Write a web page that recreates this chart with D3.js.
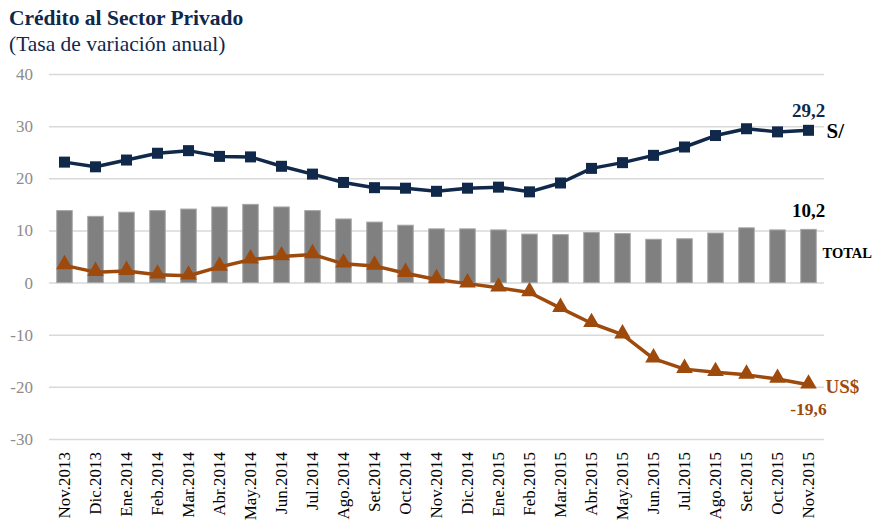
<!DOCTYPE html>
<html>
<head>
<meta charset="utf-8">
<script src="https://cdn.jsdelivr.net/npm/d3@7"></script>
<style>
  body { margin: 0; background: #fff; }
  svg text { font-family: "Liberation Serif", serif; }
</style>
</head>
<body>
<svg id="chart" width="875" height="521"></svg>
<script>
// categorias (meses)
var meses = ["Nov.2013", "Dic.2013", "Ene.2014", "Feb.2014", "Mar.2014", "Abr.2014",
  "May.2014", "Jun.2014", "Jul.2014", "Ago.2014", "Set.2014", "Oct.2014", "Nov.2014",
  "Dic.2014", "Ene.2015", "Feb.2015", "Mar.2015", "Abr.2015", "May.2015", "Jun.2015",
  "Jul.2015", "Ago.2015", "Set.2015", "Oct.2015", "Nov.2015"];

// credito total (barras)
var total = [13.8, 12.7, 13.5, 13.8, 14.1, 14.5, 15.0, 14.5, 13.8, 12.2, 11.6, 11.0, 10.3,
  10.3, 10.1, 9.3, 9.2, 9.6, 9.4, 8.3, 8.4, 9.5, 10.5, 10.1, 10.2];

// credito en soles
var soles = [23.1, 22.2, 23.5, 24.8, 25.3, 24.2, 24.1, 22.3, 20.8, 19.2, 18.2, 18.1, 17.5,
  18.1, 18.3, 17.4, 19.1, 21.9, 23.0, 24.4, 26.0, 28.2, 29.5, 28.9, 29.2];

// credito en dolares
var dolares = [3.3, 2.0, 2.2, 1.5, 1.3, 3.0, 4.4, 5.0, 5.4, 3.6, 3.2, 1.8, 0.6,
  -0.2, -1.0, -1.9, -4.9, -7.8, -10.0, -14.6, -16.6, -17.2, -17.7, -18.5, -19.6];

var yTicks = [40, 30, 20, 10, 0, -10, -20, -30];

var navy = "#10284a",
  marron = "#9e4a0c",
  gris = "#808080";

var svg = d3.select("#chart");

var margin = { left: 49, right: 51, top: 74, bottom: 82 };
var width = 875 - margin.left - margin.right,
  height = 521 - margin.top - margin.bottom;

var x = d3.scaleBand()
  .domain(meses)
  .range([margin.left, margin.left + width])
  .paddingInner(0.5)
  .paddingOuter(0.25);

var y = d3.scaleLinear()
  .domain([-30, 40])
  .range([margin.top + height, margin.top]);

// titulo
svg.append("text")
  .attr("x", 9)
  .attr("y", 25)
  .attr("font-size", "21.5px")
  .attr("font-weight", "bold")
  .attr("fill", navy)
  .text("Crédito al Sector Privado");

svg.append("text")
  .attr("x", 9)
  .attr("y", 51)
  .attr("font-size", "21.5px")
  .attr("fill", navy)
  .text("(Tasa de variación anual)");

// eje y + grilla
var yAxis = svg.append("g")
  .attr("transform", "translate(" + margin.left + ",0)")
  .call(d3.axisLeft(y).tickValues(yTicks).tickSize(-width).tickPadding(16)
    .tickFormat(function(d) { return String(d); }));

yAxis.select(".domain").remove();
yAxis.selectAll(".tick line")
  .attr("stroke", "#d9d9d9")
  .attr("stroke-width", 1.5);
yAxis.selectAll(".tick text")
  .attr("font-size", "17px")
  .attr("fill", "#8c8c8c")
  .attr("font-family", "Liberation Serif, serif");

// barras TOTAL
svg.append("g")
  .attr("class", "barras")
  .selectAll("rect")
  .data(total)
  .enter().append("rect")
  .attr("x", function(d, i) { return x(meses[i]); })
  .attr("width", x.bandwidth())
  .attr("y", function(d) { return y(Math.max(0, d)); })
  .attr("height", function(d) { return Math.abs(y(d) - y(0)); })
  .attr("fill", gris)
  .attr("stroke", "#a6a6a6")
  .attr("stroke-width", 1);

// eje x
var xAxis = svg.append("g")
  .attr("transform", "translate(0," + (margin.top + height) + ")")
  .call(d3.axisBottom(x).tickSize(0).tickPadding(0));

xAxis.select(".domain").remove();
xAxis.selectAll(".tick text")
  .attr("font-size", "17px")
  .attr("fill", "#000")
  .attr("font-family", "Liberation Serif, serif")
  .attr("transform", "rotate(-90)")
  .attr("text-anchor", "end")
  .attr("dy", "0.35em")
  .attr("x", -13)
  .attr("y", 0);

var cx = function(d, i) { return x(meses[i]) + x.bandwidth() / 2; };

var linea = d3.line()
  .x(cx)
  .y(function(d) { return y(d); });

// linea soles
svg.append("path")
  .datum(soles)
  .attr("d", linea)
  .attr("fill", "none")
  .attr("stroke", navy)
  .attr("stroke-width", 3.5)
  .attr("stroke-linejoin", "round");

svg.append("g")
  .selectAll("rect")
  .data(soles)
  .enter().append("rect")
  .attr("x", function(d, i) { return cx(d, i) - 5.5; })
  .attr("y", function(d) { return y(d) - 5.5; })
  .attr("width", 11)
  .attr("height", 11)
  .attr("fill", navy);

// linea dolares
svg.append("path")
  .datum(dolares)
  .attr("d", linea)
  .attr("fill", "none")
  .attr("stroke", marron)
  .attr("stroke-width", 3.5)
  .attr("stroke-linejoin", "round");

var tri = d3.symbol().type(d3.symbolTriangle).size(120);

svg.append("g")
  .selectAll("path")
  .data(dolares)
  .enter().append("path")
  .attr("d", tri)
  .attr("transform", function(d, i) {
    return "translate(" + cx(d, i) + "," + (y(d) - 1) + ")";
  })
  .attr("fill", marron);

// etiquetas finales
var ult = meses.length - 1;
var xUlt = cx(null, ult);

svg.append("text")
  .attr("x", xUlt)
  .attr("y", y(soles[ult]) - 13)
  .attr("text-anchor", "middle")
  .attr("font-size", "19px")
  .attr("font-weight", "bold")
  .attr("fill", navy)
  .text("29,2");

svg.append("text")
  .attr("x", xUlt + 18)
  .attr("y", y(soles[ult]) + 8)
  .attr("font-size", "21px")
  .attr("font-weight", "bold")
  .attr("fill", "#000")
  .text("S/");

svg.append("text")
  .attr("x", xUlt)
  .attr("y", y(total[ult]) - 12)
  .attr("text-anchor", "middle")
  .attr("font-size", "19px")
  .attr("font-weight", "bold")
  .attr("fill", "#000")
  .text("10,2");

svg.append("text")
  .attr("x", xUlt + 14)
  .attr("y", y(total[ult]) + 29)
  .attr("font-size", "14.5px")
  .attr("font-weight", "bold")
  .attr("fill", "#000")
  .text("TOTAL");

svg.append("text")
  .attr("x", xUlt + 17)
  .attr("y", y(dolares[ult]) + 8)
  .attr("font-size", "19px")
  .attr("font-weight", "bold")
  .attr("fill", marron)
  .text("US$");

svg.append("text")
  .attr("x", xUlt)
  .attr("y", y(dolares[ult]) + 30)
  .attr("text-anchor", "middle")
  .attr("font-size", "17.5px")
  .attr("font-weight", "bold")
  .attr("fill", marron)
  .text("-19,6");
</script>
</body>
</html>
